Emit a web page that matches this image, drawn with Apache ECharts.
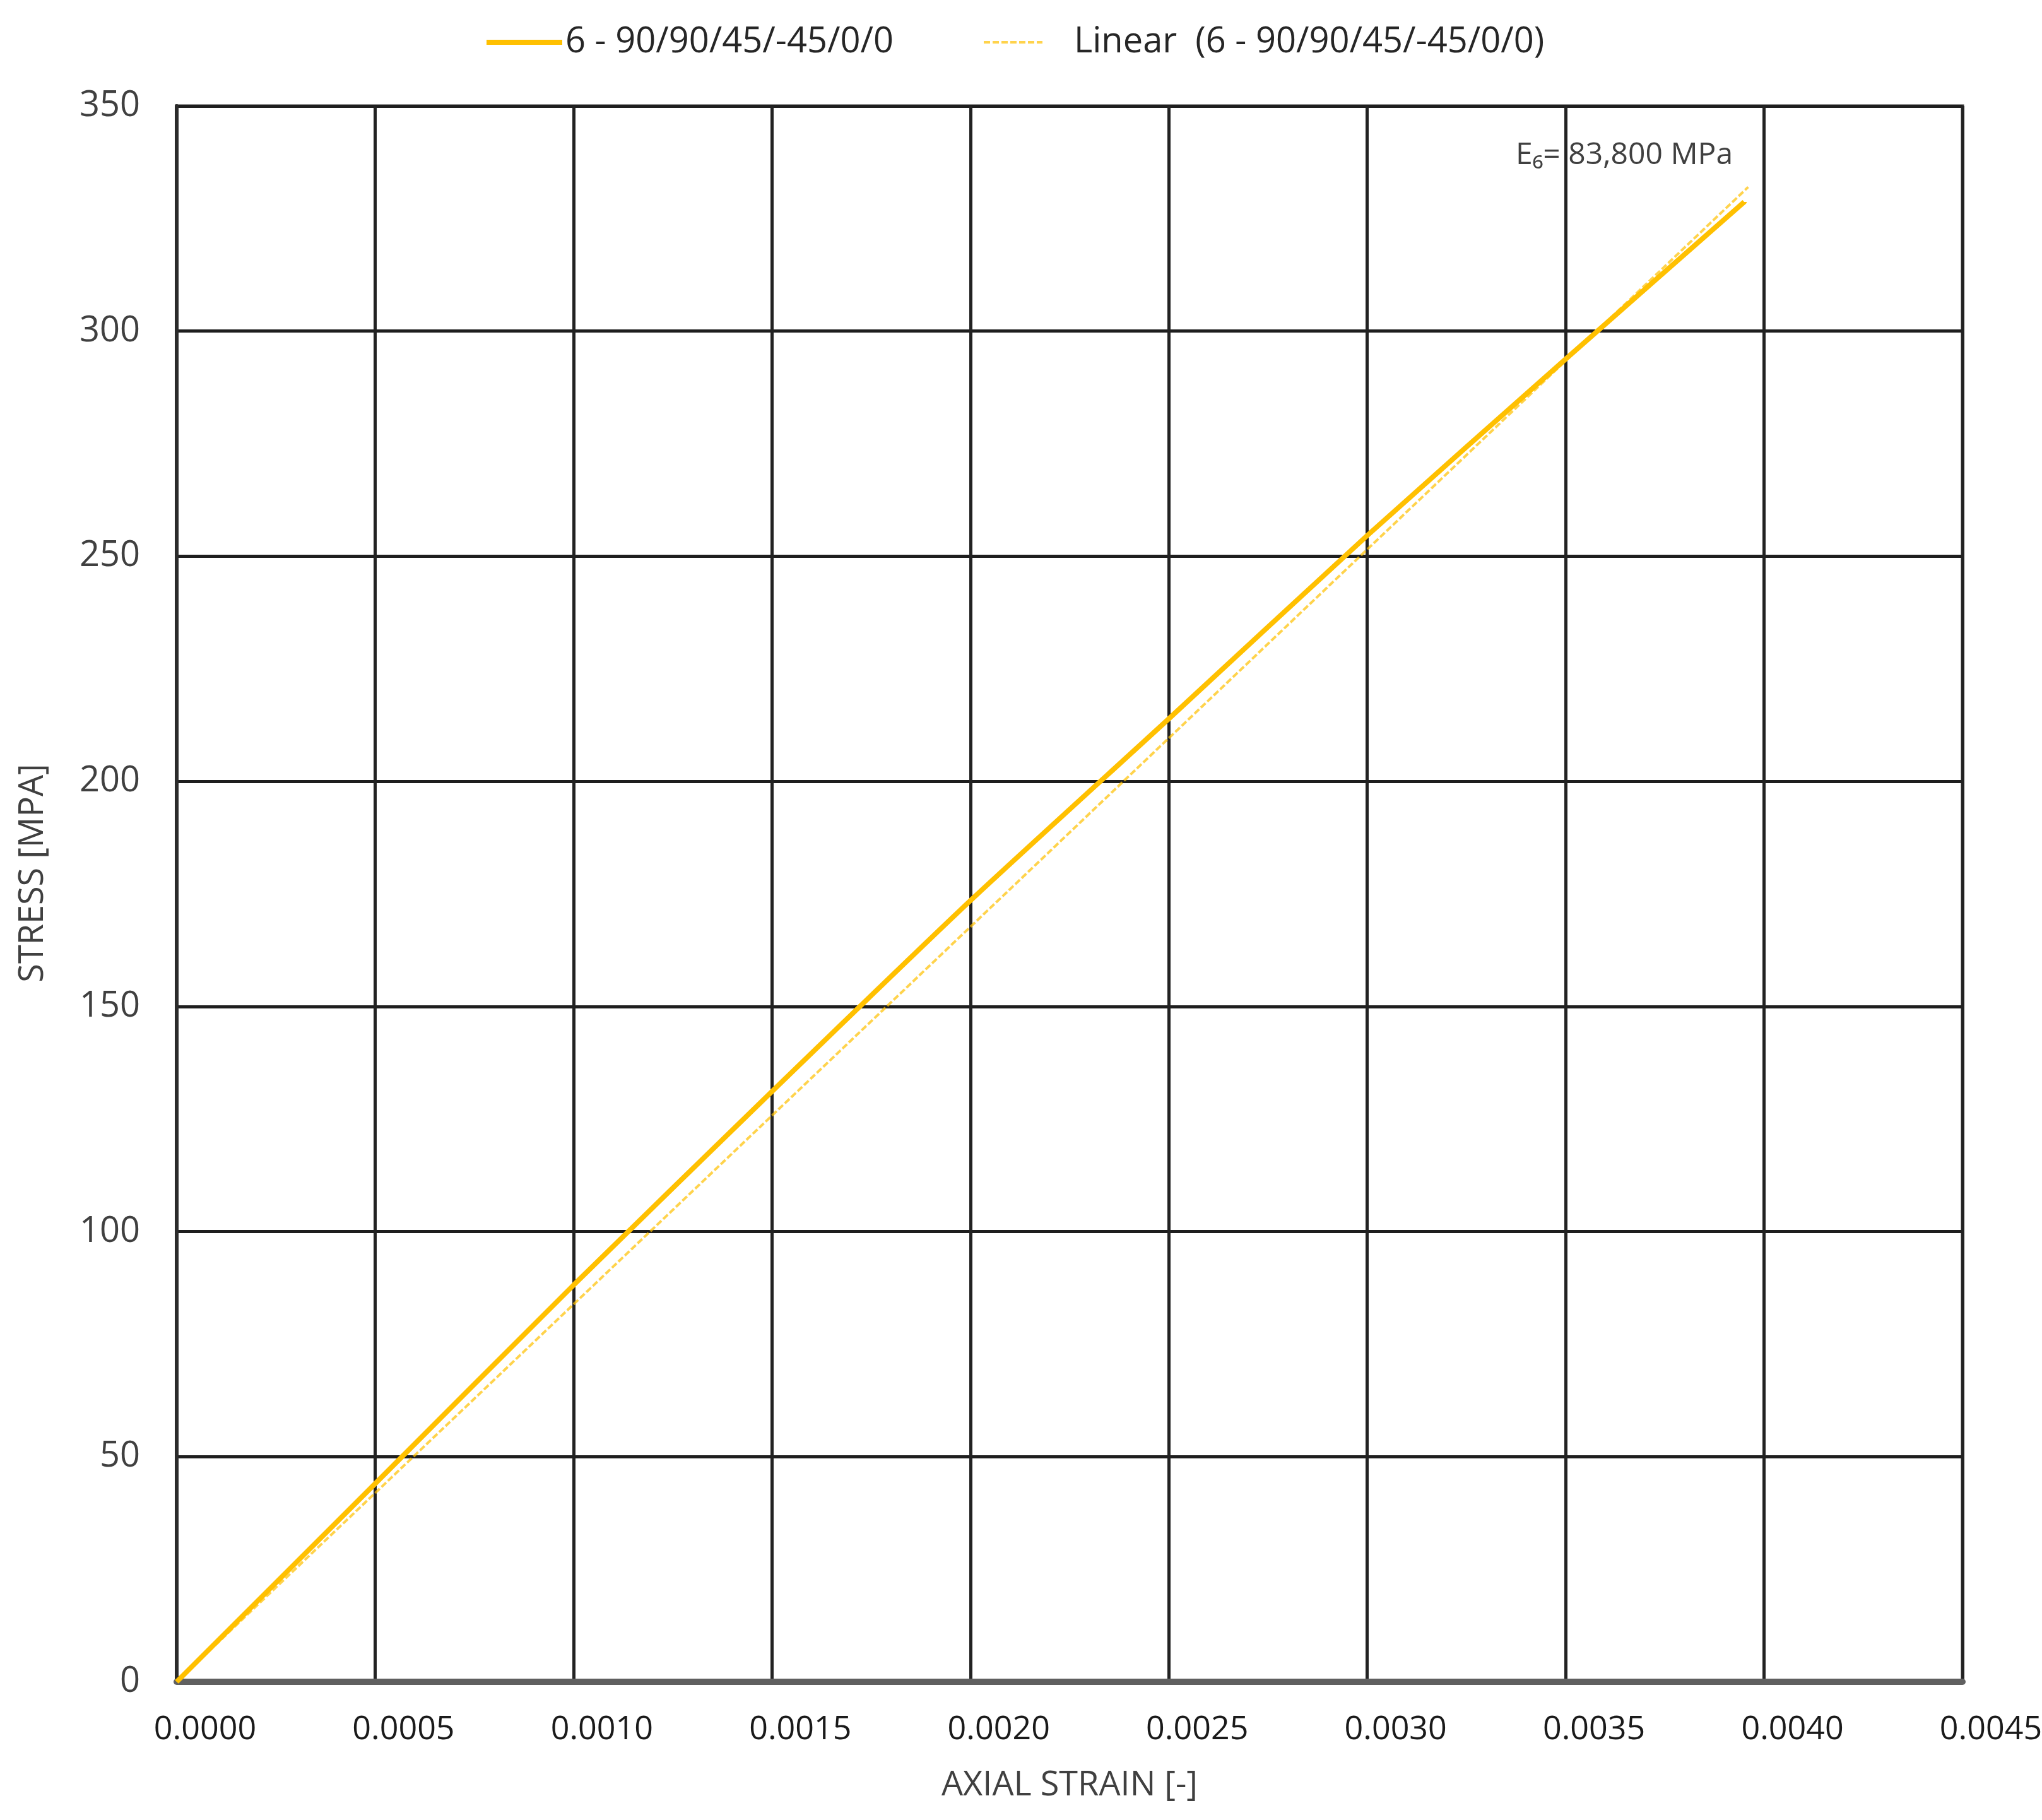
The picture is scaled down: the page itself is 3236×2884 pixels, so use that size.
<!DOCTYPE html>
<html>
<head>
<meta charset="utf-8">
<title>Stress - strain</title>
<script src="https://cdn.jsdelivr.net/npm/echarts@6/dist/echarts.min.js"></script>
<style>
	html, body { margin: 0; padding: 0; background: #fff; }
	#main { width: 3236px; height: 2884px; }
</style>
</head>
<body>
<div id="main"></div>
<script type="text/javascript">
	// values
	var seriesName = '6 - 90/90/45/-45/0/0';
	var linearName = 'Linear  (6 - 90/90/45/-45/0/0)';
	var strain = [0, 0.0005, 0.0010, 0.0015, 0.0020, 0.0025, 0.0030, 0.0035, 0.00395];
	var stress = [0, 44.0, 88.1, 131.1, 173.5, 213.9, 254.6, 293.8, 328.7];
	var linearStrain = [0, 0.00396];
	var linearStress = [0, 332.0];
	var modulusText = 'E\u2086= 83,800 MPa';

	var mainData = [];
	for (var i = 0; i < strain.length; i++) {
		mainData.push([strain[i], stress[i]]);
	}
	var linearData = [];
	for (var j = 0; j < linearStrain.length; j++) {
		linearData.push([linearStrain[j], linearStress[j]]);
	}

	var font = '"Open Sans", "Noto Sans", "DejaVu Sans", sans-serif';
	var myChart = echarts.init(document.getElementById('main'));
	var option = {
		backgroundColor: '#ffffff',
		animation: false,
		textStyle: { fontFamily: font },
		legend: [
			{
				data: [seriesName],
				left: 762,
				top: 34,
				itemWidth: 120,
				itemHeight: 20,
				itemStyle: { opacity: 0 },
				lineStyle: { color: '#FFC000', width: 8 },
				textStyle: { fontSize: 56, color: '#262626', fontFamily: font }
			},
			{
				data: [linearName],
				left: 1552,
				top: 34,
				itemWidth: 93,
				itemHeight: 20,
				itemStyle: { opacity: 0 },
				lineStyle: { color: '#FFC000', width: 4, type: [10, 4], opacity: 0.7 },
				textStyle: { fontSize: 56, color: '#262626', fontFamily: font, padding: [0, 0, 0, 45] }
			}
		],
		grid: {
			left: 280,
			right: 126,
			top: 168,
			bottom: 219,
			outerBoundsMode: 'none',
			show: true,
			borderColor: '#333333',
			borderWidth: 5
		},
		xAxis: {
			type: 'value',
			min: 0,
			max: 0.0045,
			interval: 0.0005,
			name: 'AXIAL STRAIN [-]',
			nameLocation: 'middle',
			nameGap: 138,
			nameTextStyle: { fontSize: 54, color: '#404040', fontFamily: font },
			axisLine: { show: true, lineStyle: { color: '#606060', width: 10 } },
			axisTick: { show: false },
			axisLabel: {
				fontSize: 52,
				color: '#1a1a1a',
				margin: 50,
				padding: [0, 0, 0, 90],
				formatter: function (v) { return v.toFixed(4); }
			},
			splitLine: { show: true, lineStyle: { color: '#222222', width: 5 } }
		},
		yAxis: {
			type: 'value',
			min: 0,
			max: 350,
			interval: 50,
			name: 'STRESS [MPA]',
			nameLocation: 'middle',
			nameRotate: 90,
			nameGap: 200,
			nameTextStyle: { fontSize: 54, color: '#404040', fontFamily: font, padding: [0, 0, 0, 66] },
			axisLine: { show: true, lineStyle: { color: '#2b2b2b', width: 6 } },
			axisTick: { show: false },
			axisLabel: { fontSize: 56, color: '#404040', margin: 58 },
			splitLine: { show: true, lineStyle: { color: '#1e1e1e', width: 5 } }
		},
		graphic: [
			{
				type: 'text',
				left: 2402,
				top: 222,
				style: {
					text: modulusText,
					fontSize: 48,
					fill: '#404040',
					fontFamily: font
				}
			}
		],
		series: [
			{
				name: seriesName,
				type: 'line',
				data: mainData,
				symbol: 'none',
				smooth: 0.2,
				z: 3,
				lineStyle: { color: '#FFC000', width: 8 },
				itemStyle: { color: '#FFC000' }
			},
			{
				name: linearName,
				type: 'line',
				data: linearData,
				symbol: 'none',
				z: 4,
				lineStyle: { color: '#FFC000', width: 4, type: [10, 4], opacity: 0.7 },
				itemStyle: { color: '#FFCB2E' }
			}
		]
	};
	myChart.setOption(option);
</script>
</body>
</html>
